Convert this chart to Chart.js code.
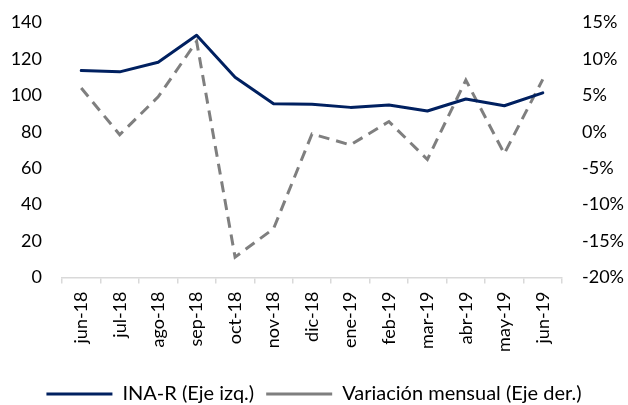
<!DOCTYPE html>
<html>
<head>
<meta charset="utf-8">
<script src="https://cdn.jsdelivr.net/npm/chart.js@4/dist/chart.umd.min.js"></script>
<style>
  html, body { margin: 0; padding: 0; background: #fff; }
  #wrap { width: 628px; height: 405px; position: relative; }
</style>
</head>
<body>
<div id="wrap"><canvas id="chart" width="628" height="405"></canvas></div>
<script>
const months = ["jun-18", "jul-18", "ago-18", "sep-18", "oct-18", "nov-18", "dic-18",
  "ene-19", "feb-19", "mar-19", "abr-19", "may-19", "jun-19"];
const inaR = [113.6, 112.9, 118.2, 133.0, 110.0, 95.4, 95.1, 93.4, 94.7, 91.4, 98.0, 94.3, 101.4];
const variacion = [6.0, -0.4, 4.8, 12.4, -17.2, -13.3, -0.3, -1.8, 1.4, -3.8, 7.1, -3.0, 7.2];
const leftTicks = [0, 20, 40, 60, 80, 100, 120, 140];
const rightTicks = [-20, -15, -10, -5, 0, 5, 10, 15];

const FONT = "Lato, 'Open Sans', sans-serif";
const TEXT = "#000000";

// y axes: keep the label gap but don't let it push the plot area down
function fixY(width) {
  return s => {
    s.width = width;
    s.paddingTop = 22.5;
    s.paddingBottom = 10;
  };
}

new Chart(document.getElementById("chart"), {
  type: "line",
  data: {
    labels: months,
    datasets: [
      {
        label: "INA-R (Eje izq.)",
        data: inaR,
        yAxisID: "y",
        borderColor: "#002060",
        backgroundColor: "#002060",
        borderWidth: 3,
        pointRadius: 0,
        tension: 0,
        borderCapStyle: "round",
        borderJoinStyle: "round"
      },
      {
        label: "Variación mensual (Eje der.)",
        data: variacion,
        yAxisID: "y2",
        borderColor: "#7f7f7f",
        backgroundColor: "#7f7f7f",
        borderWidth: 3,
        borderDash: [11, 7],
        pointRadius: 0,
        tension: 0
      }
    ]
  },
  options: {
    responsive: false,
    animation: false,
    layout: { padding: { top: 0, left: 0, right: 0, bottom: -9 } },
    plugins: {
      tooltip: { enabled: false },
      legend: {
        position: "bottom",
        labels: {
          usePointStyle: true,
          pointStyle: "line",
          pointStyleWidth: 66,
          boxHeight: 8,
          padding: 12,
          color: TEXT,
          font: { family: FONT, size: 20 }
        }
      }
    },
    scales: {
      x: {
        offset: true,
        grid: {
          offset: true,
          drawOnChartArea: false,
          drawTicks: true,
          tickLength: 6,
          color: "#d9d9d9",
          lineWidth: 1.5
        },
        border: { color: "#d9d9d9", width: 1.5 },
        ticks: {
          maxRotation: 90,
          minRotation: 90,
          padding: 8,
          color: TEXT,
          font: { family: FONT, size: 18 }
        },
        afterFit: s => { s.height = 94.5; }
      },
      y: {
        position: "left",
        min: 0,
        max: 140,
        afterBuildTicks: s => { s.ticks = leftTicks.map(v => ({ value: v })); },
        grid: { display: false, drawTicks: false },
        border: { display: false },
        ticks: {
          padding: 20,
          color: TEXT,
          font: { family: FONT, size: 18 }
        },
        afterFit: fixY(62)
      },
      y2: {
        position: "right",
        min: -20,
        max: 15,
        afterBuildTicks: s => { s.ticks = rightTicks.map(v => ({ value: v })); },
        grid: { display: false, drawTicks: false },
        border: { display: false },
        ticks: {
          padding: 20,
          color: TEXT,
          font: { family: FONT, size: 18 },
          callback: v => v + "%"
        },
        afterFit: fixY(66)
      }
    }
  }
});
</script>
</body>
</html>
